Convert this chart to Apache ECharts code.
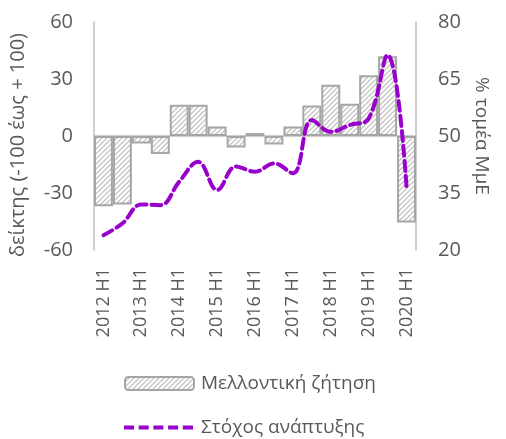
<!DOCTYPE html>
<html>
<head>
<meta charset="utf-8">
<script src="https://cdn.jsdelivr.net/npm/echarts@6/dist/echarts.min.js"></script>
<style>
  html, body { margin: 0; padding: 0; background: #fff; }
  #chart-container { width: 506px; height: 439px; }
</style>
</head>
<body>
<div id="chart-container"></div>
<script>
// κατηγορίες (εξάμηνα)
const categories = [
  '2012 H1', '2012 H2', '2013 H1', '2013 H2', '2014 H1', '2014 H2',
  '2015 H1', '2015 H2', '2016 H1', '2016 H2', '2017 H1', '2017 H2',
  '2018 H1', '2018 H2', '2019 H1', '2019 H2', '2020 H1'
];
// Μελλοντική ζήτηση (αριστερός άξονας)
const demandValues = [-37, -36, -4, -9.5, 16.5, 16.5, 5, -6, 1.5, -4.5, 5, 16, 27, 17, 32, 42, -45.5];
// Στόχος ανάπτυξης (δεξιός άξονας, %)
const growthValues = [23.9, 27, 32, 31.8, 38, 43.2, 35.8, 42, 40.6, 42.8, 40.2, 54.2, 51.1, 52.9, 54.6, 71.3, 36.7];
const leftTicks = [-60, 60, 30];   // min, max, interval
const rightTicks = [20, 80, 15];

// μοτίβο διαγράμμισης για τις μπάρες
function hatchPattern() {
  const c = document.createElement('canvas');
  c.width = 5;
  c.height = 5;
  const ctx = c.getContext('2d');
  ctx.fillStyle = '#ffffff';
  ctx.fillRect(0, 0, 5, 5);
  ctx.strokeStyle = '#c4c4c4';
  ctx.lineWidth = 1.3;
  ctx.beginPath();
  ctx.moveTo(-1, 6); ctx.lineTo(6, -1);
  ctx.moveTo(-1, 1); ctx.lineTo(1, -1);
  ctx.moveTo(4, 6); ctx.lineTo(6, 4);
  ctx.stroke();
  return c;
}

const font = '"Open Sans", "Noto Sans", sans-serif';
const textColor = '#595959';
const lineColor = '#9900cc';
// εικονίδιο διακεκομμένης γραμμής για το υπόμνημα
const dashIcon = 'path://M0,0h10v4h-10z M14.7,0h10v4h-10z M29.4,0h10v4h-10z M44.1,0h10v4h-10z M58.8,0h10.2v4h-10.2z';

var dom = document.getElementById('chart-container');
var myChart = echarts.init(dom, null, { renderer: 'canvas' });

var option = {
  animation: false,
  grid: { left: 94, right: 90, top: 22, bottom: 189, outerBoundsMode: 'none', containLabel: false },
  legend: [
    {
      left: 124,
      top: 374,
      padding: 0,
      itemWidth: 69,
      itemHeight: 13,
      itemGap: 0,
      textStyle: { fontFamily: font, fontSize: 19, color: textColor, padding: [0, 0, 0, 2] },
      data: ['Μελλοντική ζήτηση']
    },
    {
      left: 124,
      top: 418,
      padding: 0,
      itemWidth: 69,
      itemHeight: 4,
      textStyle: { fontFamily: font, fontSize: 19, color: textColor, padding: [0, 0, 0, 3] },
      data: [{ name: 'Στόχος ανάπτυξης', icon: dashIcon, itemStyle: { color: lineColor } }]
    }
  ],
  xAxis: [
    {
      type: 'category',
      data: categories,
      axisLine: { onZero: true, lineStyle: { color: '#bfbfbf', width: 1.5 } },
      axisTick: { show: false },
      axisLabel: { show: false }
    },
    {
      type: 'category',
      data: categories,
      position: 'bottom',
      axisLine: { show: false, onZero: false },
      axisTick: { show: false },
      axisLabel: {
        interval: 1,
        rotate: 90,
        margin: 18,
        fontFamily: font,
        fontSize: 18,
        color: textColor
      }
    }
  ],
  yAxis: [
    {
      type: 'value',
      min: leftTicks[0],
      max: leftTicks[1],
      interval: leftTicks[2],
      name: 'δείκτης (-100 έως + 100)',
      nameLocation: 'middle',
      nameGap: 66,
      nameTextStyle: { fontFamily: font, fontSize: 20, color: textColor, padding: [0, 18, 0, 0] },
      axisLine: { show: true, lineStyle: { color: '#bfbfbf', width: 1.5 } },
      axisTick: { show: false },
      splitLine: { show: false },
      axisLabel: { margin: 21, fontFamily: font, fontSize: 20, color: textColor }
    },
    {
      type: 'value',
      min: rightTicks[0],
      max: rightTicks[1],
      interval: rightTicks[2],
      position: 'right',
      name: '% τομέα ΜμΕ',
      nameLocation: 'middle',
      nameRotate: -90,
      nameGap: 49,
      nameTextStyle: { fontFamily: font, fontSize: 19, color: textColor },
      axisLine: { show: true, lineStyle: { color: '#bfbfbf', width: 1.5 } },
      axisTick: { show: false },
      splitLine: { show: false },
      axisLabel: { margin: 22, fontFamily: font, fontSize: 20, color: textColor }
    }
  ],
  series: [
    {
      name: 'Μελλοντική ζήτηση',
      type: 'bar',
      xAxisIndex: 0,
      yAxisIndex: 0,
      barCategoryGap: '0%',
      itemStyle: {
        color: { image: hatchPattern(), repeat: 'repeat' },
        borderColor: '#a6a6a6',
        borderWidth: 2
      },
      data: demandValues
    },
    {
      name: 'Στόχος ανάπτυξης',
      type: 'line',
      xAxisIndex: 0,
      yAxisIndex: 1,
      smooth: 0.4,
      symbol: 'none',
      itemStyle: { color: lineColor },
      lineStyle: { color: lineColor, width: 4, type: [10, 5], cap: 'round' },
      data: growthValues
    }
  ]
};

myChart.setOption(option);
</script>
</body>
</html>
